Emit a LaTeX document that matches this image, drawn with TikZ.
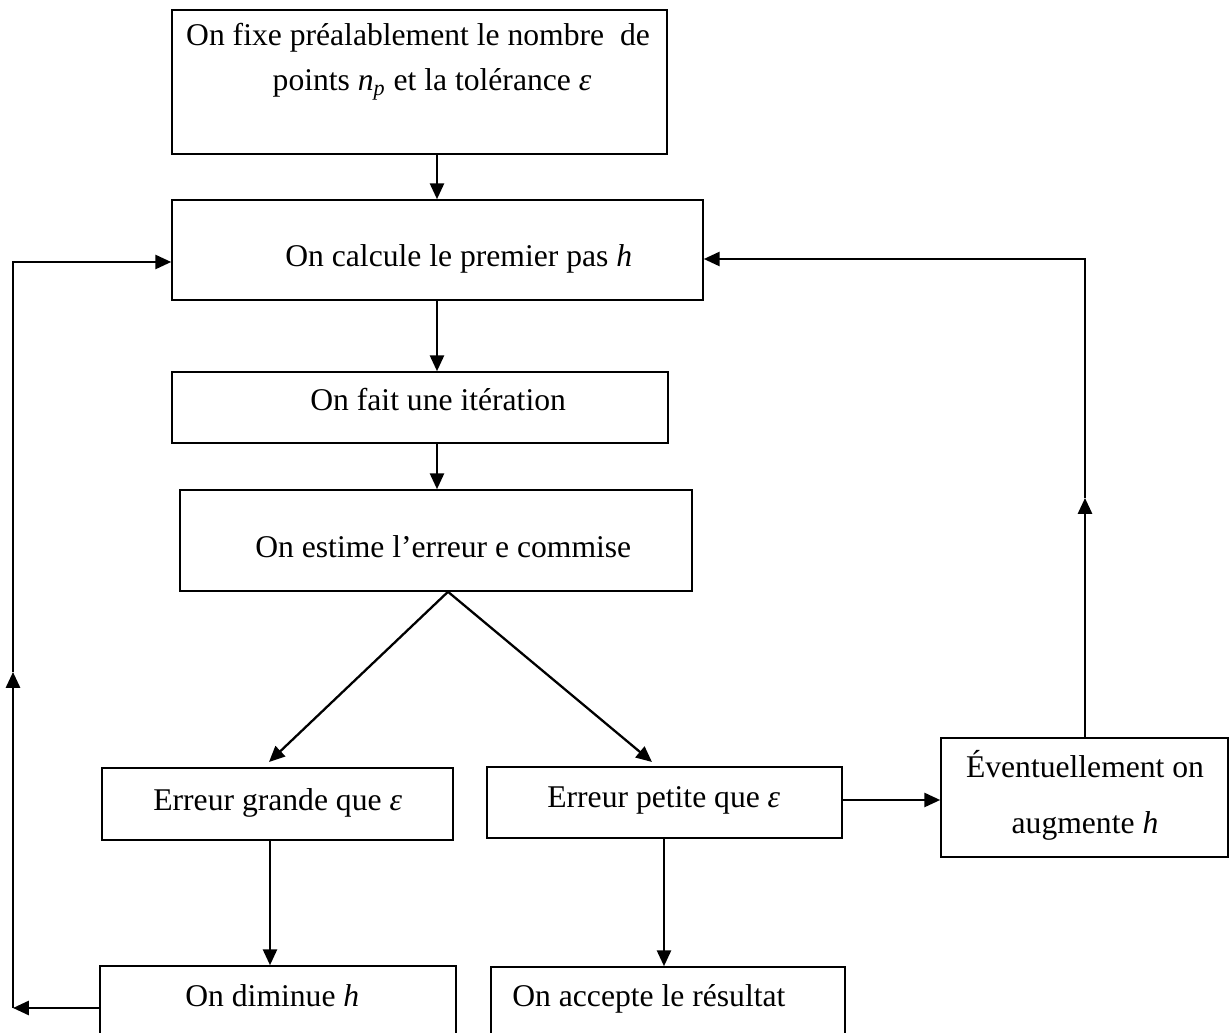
\documentclass[tikz,border=0pt]{standalone}
\usepackage{fontspec}
\setmainfont{Liberation Serif}
\usetikzlibrary{arrows.meta,fit}
\begin{document}
\begin{tikzpicture}[x=0.02cm,y=-0.02cm,
  font=\fontsize{18}{22}\selectfont,
  box/.style={draw, line width=0.9pt, inner sep=0pt},
  txt/.style={inner sep=0pt, anchor=base west},
  txtc/.style={inner sep=0pt, anchor=base},
  arr/.style={line width=1.3pt, -{Triangle[length=9pt,width=8pt]}}]
\useasboundingbox (0,0) rectangle (1232,1033);
\clip (0,0) rectangle (1232,1033);
% boxes
\node[box, fit={(172,10) (667,154)}] (n1) {};
\node[box, fit={(172,200) (703,300)}] (n2) {};
\node[box, fit={(172,372) (668,443)}] (n3) {};
\node[box, fit={(180,490) (692,591)}] (n4) {};
\node[box, fit={(102,768) (453,840)}] (ng) {};
\node[box, fit={(487,767) (842,838)}] (np) {};
\node[box, fit={(941,738) (1228,857)}] (ne) {};
\node[box, fit={(100,966) (456,1060)}] (nd) {};
\node[box, fit={(491,967) (845,1060)}] (na) {};
% texts
\node[txtc] at (418,46) {On fixe préalablement le nombre\ \ de};
\node[txtc] at (432,91) {points \textit{n}\textsubscript{\textit{p}} et la tolérance \textit{ε}};
\node[txt] at (285,267) {On calcule le premier pas \textit{h}};
\node[txt] at (310,411) {On fait une itération};
\node[txt] at (255,558) {On estime l’erreur e commise};
\node[txt] at (153,811) {Erreur grande que \textit{ε}};
\node[txt] at (547,808) {Erreur petite que \textit{ε}};
\node[txtc] at (1085,778) {Éventuellement on};
\node[txtc] at (1085,834) {augmente \textit{h}};
\node[txt] at (185,1007) {On diminue \textit{h}};
\node[txt] at (512,1007) {On accepte le résultat};
% connectors
\coordinate (cx) at (437,0);
\draw[arr] (n1.south -| cx) -- (n2.north -| cx);
\draw[arr] (n2.south -| cx) -- (n3.north -| cx);
\draw[arr] (n3.south -| cx) -- (n4.north -| cx);
\coordinate (dx) at (448,0);
\coordinate (tg) at (269,762);
\coordinate (tp) at (652,762);
\draw[arr] (n4.south -| dx) -- (tg);
\draw[arr] (n4.south -| dx) -- (tp);
\coordinate (gx) at (270,0);
\draw[arr] (ng.south -| gx) -- (nd.north -| gx);
\coordinate (px) at (664,0);
\draw[arr] (np.south -| px) -- (na.north -| px);
\coordinate (ey) at (0,800);
\draw[arr] (np.east |- ey) -- (ne.west |- ey);
% left loop
\coordinate (L0) at (13,1008);
\coordinate (L1) at (13,672);
\coordinate (L2) at (13,262);
\draw[arr] (nd.west |- L0) -- (L0);
\draw[arr] (L0) -- (L1);
\draw[arr] (L1) -- (L2) -- (n2.west |- L2);
% right loop
\coordinate (R1) at (1085,498);
\coordinate (R2) at (1085,259);
\draw[arr] (ne.north -| R1) -- (R1);
\draw[arr] (R1) -- (R2) -- (n2.east |- R2);
\end{tikzpicture}
\end{document}
